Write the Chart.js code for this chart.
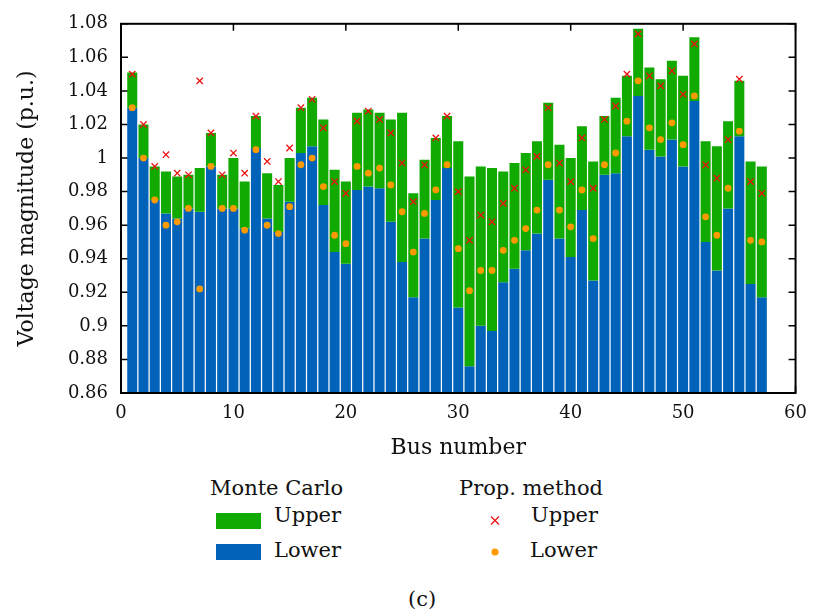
<!DOCTYPE html>
<html>
<head>
<meta charset="utf-8">
<script src="https://cdn.jsdelivr.net/npm/chart.js@4/dist/chart.umd.min.js"></script>
<style>
  body { margin: 0; background: #fff; }
  #wrap { position: relative; width: 817px; height: 616px; font-family: "DejaVu Serif", serif; color: #111; }
  #chart { position: absolute; left: 0; top: 0; }
  .txt { position: absolute; font-size: 21px; line-height: 21px; white-space: nowrap; }
  .box { position: absolute; width: 45px; height: 16px; }
</style>
</head>
<body>
<div id="wrap">
  <canvas id="chart" width="817" height="470"></canvas>

  <div class="txt" style="left:210px; top:478px;">Monte Carlo</div>
  <div class="box" style="left:216px; top:513px; background:#11aa00;"></div>
  <div class="txt" style="left:274px; top:505px;">Upper</div>
  <div class="box" style="left:216px; top:544px; background:#0062b8;"></div>
  <div class="txt" style="left:274px; top:540px;">Lower</div>

  <div class="txt" style="left:459px; top:478px;">Prop. method</div>
  <canvas id="mark" width="20" height="50" style="position:absolute; left:485px; top:510px;"></canvas>
  <div class="txt" style="left:531px; top:505px;">Upper</div>
  <div class="txt" style="left:530px; top:540px;">Lower</div>

  <div class="txt" style="left:408px; top:589px;">(c)</div>
</div>

<script>
// bus numbers
const buses = [1, 2, 3, 4, 5, 6, 7, 8, 9, 10, 11, 12, 13, 14, 15, 16, 17, 18, 19, 20,
    21, 22, 23, 24, 25, 26, 27, 28, 29, 30, 31, 32, 33, 34, 35, 36, 37, 38, 39, 40,
    41, 42, 43, 44, 45, 46, 47, 48, 49, 50, 51, 52, 53, 54, 55, 56, 57];

// Monte Carlo bounds (bars)
const mcUpper = [1.051, 1.020, 0.995, 0.992, 0.989, 0.990, 0.994, 1.015, 0.990, 1.000,
    0.986, 1.025, 0.991, 0.984, 1.000, 1.030, 1.036, 1.023, 0.993, 0.986,
    1.027, 1.029, 1.027, 1.023, 1.027, 0.979, 0.999, 1.012, 1.025, 1.010,
    0.989, 0.995, 0.994, 0.992, 0.997, 1.003, 1.010, 1.033, 1.008, 1.000,
    1.019, 0.998, 1.025, 1.036, 1.049, 1.077, 1.054, 1.047, 1.058, 1.049,
    1.072, 1.010, 1.007, 1.022, 1.046, 0.998, 0.995];
const mcLower = [1.030, 1.000, 0.975, 0.967, 0.964, 0.970, 0.968, 0.995, 0.970, 0.970,
    0.958, 1.006, 0.964, 0.956, 0.974, 1.003, 1.007, 0.972, 0.944, 0.937,
    0.981, 0.983, 0.982, 0.962, 0.938, 0.917, 0.952, 0.975, 0.994, 0.911,
    0.876, 0.900, 0.897, 0.926, 0.934, 0.945, 0.955, 0.987, 0.952, 0.941,
    0.969, 0.927, 0.990, 0.991, 1.013, 1.037, 1.005, 1.001, 1.011, 0.995,
    1.034, 0.950, 0.933, 0.970, 1.013, 0.925, 0.917];

// proposed method bounds (markers)
const pmUpper = [1.050, 1.020, 0.995, 1.002, 0.991, 0.990, 1.046, 1.015, 0.990, 1.003,
    0.991, 1.025, 0.998, 0.986, 1.006, 1.030, 1.035, 1.018, 0.986, 0.979,
    1.022, 1.028, 1.023, 1.015, 0.997, 0.974, 0.996, 1.012, 1.025, 0.980,
    0.951, 0.966, 0.962, 0.973, 0.982, 0.993, 1.001, 1.030, 0.997, 0.986,
    1.012, 0.982, 1.023, 1.031, 1.050, 1.074, 1.049, 1.043, 1.052, 1.038,
    1.068, 0.996, 0.988, 1.011, 1.047, 0.986, 0.979];
const pmLower = [1.030, 1.000, 0.975, 0.960, 0.962, 0.970, 0.922, 0.995, 0.970, 0.970,
    0.957, 1.005, 0.960, 0.955, 0.971, 0.996, 1.000, 0.983, 0.954, 0.949,
    0.995, 0.991, 0.994, 0.984, 0.968, 0.944, 0.967, 0.981, 0.996, 0.946,
    0.921, 0.933, 0.933, 0.945, 0.951, 0.958, 0.969, 0.996, 0.969, 0.959,
    0.981, 0.952, 0.996, 1.003, 1.022, 1.046, 1.018, 1.011, 1.021, 1.008,
    1.037, 0.965, 0.954, 0.982, 1.016, 0.951, 0.950];

// axis ticks
const xTicks = [0, 10, 20, 30, 40, 50, 60];
const yTicks = [0.86, 0.88, 0.9, 0.92, 0.94, 0.96, 0.98, 1, 1.02, 1.04, 1.06, 1.08];

const GREEN = '#11aa00';
const BLUE = '#0062b8';
const RED = '#ee1111';
const ORANGE = '#ff9a00';
const FONT = '"DejaVu Serif", serif';

const yMin = yTicks[0];
const yMax = yTicks[yTicks.length - 1];

// gnuplot style frame with inward ticks
const frameTicks = {
    id: 'frameTicks',
    beforeDatasetsDraw(chart) {
        const { ctx, chartArea: a, scales } = chart;
        const len = 7;
        ctx.save();
        ctx.strokeStyle = '#000';
        ctx.lineWidth = 1.5;
        ctx.beginPath();
        yTicks.forEach(v => {
            const y = scales.y.getPixelForValue(v);
            ctx.moveTo(a.left, y); ctx.lineTo(a.left + len, y);
            ctx.moveTo(a.right, y); ctx.lineTo(a.right - len, y);
        });
        xTicks.forEach(v => {
            const x = scales.x.getPixelForValue(v);
            ctx.moveTo(x, a.top); ctx.lineTo(x, a.top + len);
            ctx.moveTo(x, a.bottom); ctx.lineTo(x, a.bottom - len);
        });
        ctx.stroke();
        ctx.restore();
    },
    afterDatasetsDraw(chart) {
        const { ctx, chartArea: a } = chart;
        ctx.save();
        ctx.strokeStyle = '#000';
        ctx.lineWidth = 2;
        ctx.strokeRect(a.left, a.top, a.right - a.left, a.bottom - a.top);
        ctx.restore();
    }
};

function buildChart() {
    const ctx = document.getElementById('chart').getContext('2d');

    new Chart(ctx, {
        type: 'bar',
        data: {
            datasets: [
                {
                    type: 'scatter',
                    label: 'Upper',
                    data: buses.map((b, i) => ({ x: b, y: pmUpper[i] })),
                    pointStyle: 'crossRot',
                    pointRadius: 4.5,
                    borderColor: RED,
                    borderWidth: 1.3,
                    order: 0,
                },
                {
                    type: 'scatter',
                    label: 'Lower',
                    data: buses.map((b, i) => ({ x: b, y: pmLower[i] })),
                    pointStyle: 'circle',
                    pointRadius: 3.4,
                    backgroundColor: ORANGE,
                    borderWidth: 0,
                    order: 0,
                },
                {
                    label: 'MC Upper',
                    data: buses.map((b, i) => ({ x: b, y: [mcLower[i], mcUpper[i]] })),
                    backgroundColor: GREEN,
                    grouped: false,
                    barPercentage: 0.89,
                    categoryPercentage: 1,
                    order: 1,
                },
                {
                    label: 'MC Lower',
                    data: buses.map((b, i) => ({ x: b, y: [yMin, mcLower[i]] })),
                    backgroundColor: BLUE,
                    grouped: false,
                    barPercentage: 0.89,
                    categoryPercentage: 1,
                    order: 1,
                },
            ],
        },
        options: {
            responsive: false,
            animation: false,
            layout: { padding: { top: 18, right: 18, left: 0, bottom: 0 } },
            plugins: {
                legend: { display: false },
                tooltip: { enabled: false },
            },
            scales: {
                x: {
                    type: 'linear',
                    min: xTicks[0],
                    max: xTicks[xTicks.length - 1],
                    offset: false,
                    grid: { display: false, drawTicks: false },
                    border: { display: false },
                    afterBuildTicks: s => { s.ticks = xTicks.map(v => ({ value: v })); },
                    afterFit: s => { s.height = 77; },
                    ticks: {
                        color: '#111',
                        padding: 10,
                        maxRotation: 0,
                        font: { family: FONT, size: 18 },
                        callback: v => String(v),
                    },
                    title: {
                        display: true,
                        text: 'Bus number',
                        color: '#111',
                        font: { family: FONT, size: 22 },
                        padding: { top: 0, bottom: 9 },
                    },
                },
                y: {
                    min: yMin,
                    max: yMax,
                    grid: { display: false, drawTicks: false },
                    border: { display: false },
                    afterBuildTicks: s => { s.ticks = yTicks.map(v => ({ value: v })); },
                    afterFit: s => { s.width = 121; },
                    ticks: {
                        color: '#111',
                        padding: 13,
                        font: { family: FONT, size: 18 },
                        callback: v => String(Number(v.toFixed(2))),
                    },
                    title: {
                        display: true,
                        text: 'Voltage magnitude (p.u.)',
                        color: '#111',
                        font: { family: FONT, size: 22 },
                        padding: { top: 14, bottom: 0 },
                    },
                },
            },
        },
        plugins: [frameTicks],
    });
}

// legend markers for the proposed method
function drawMarkers() {
    const c = document.getElementById('mark').getContext('2d');
    c.strokeStyle = RED;
    c.lineWidth = 1.3;
    c.beginPath();
    c.moveTo(6, 6.5); c.lineTo(14, 14.5);
    c.moveTo(14, 6.5); c.lineTo(6, 14.5);
    c.stroke();
    c.fillStyle = ORANGE;
    c.beginPath();
    c.arc(10, 42, 3.6, 0, Math.PI * 2);
    c.fill();
}

buildChart();
drawMarkers();
</script>
</body>
</html>
